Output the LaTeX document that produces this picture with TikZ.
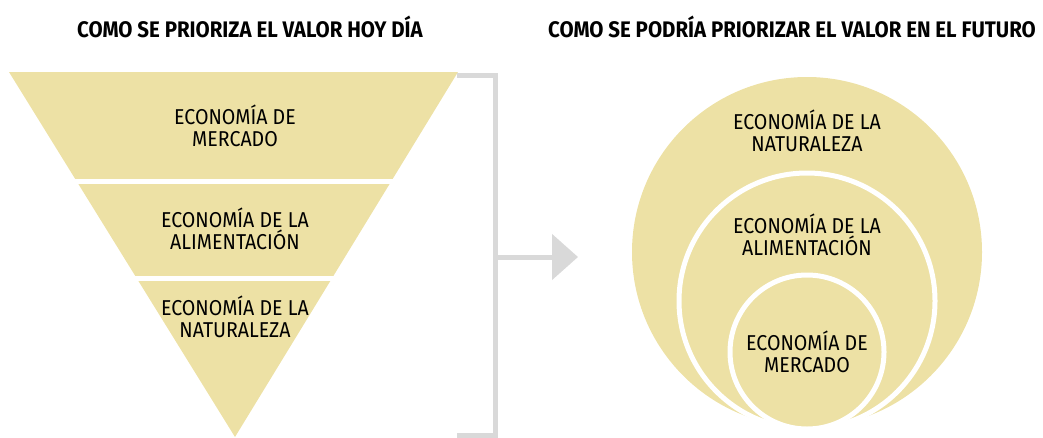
\documentclass[tikz,border=0pt]{standalone}
\usepackage{fontspec}
\setmainfont{Fira Sans}[FakeStretch=0.91]
\usetikzlibrary{arrows.meta}
\definecolor{arena}{HTML}{EDE1A5}
\definecolor{gris}{HTML}{D9D9D9}
\begin{document}
\begin{tikzpicture}[x=1pt,y=-1pt,
  etiqueta/.style={align=center,font=\fontsize{21.5}{22.5}\selectfont,inner sep=0pt},
  titulo/.style={font=\fontsize{22.5}{24}\selectfont\bfseries,inner sep=0pt},
  corte/.style={white,line width=5pt},
  marco/.style={gris,line width=5pt}]

\useasboundingbox (0,0) rectangle (1043,437);

% titulos
\node[titulo] (hoy) at (250,27) {COMO SE PRIORIZA EL VALOR HOY DÍA};
\node[titulo] (futuro) at (792,27) {COMO SE PODRÍA PRIORIZAR EL VALOR EN EL FUTURO};

% piramide invertida
\fill[arena] (9,72) -- (458,72) -- (235,437) -- cycle;
\draw[corte] (0,181.5) -- (470,181.5);
\draw[corte] (0,278.5) -- (470,278.5);

\node[etiqueta] (mercado1) at (235,126) {ECONOMÍA DE\\MERCADO};
\node[etiqueta] (alim1) at (235,229) {ECONOMÍA DE LA\\ALIMENTACIÓN};
\node[etiqueta] (natu1) at (235,317) {ECONOMÍA DE LA\\NATURALEZA};

% corchete y flecha
\coordinate (c1) at (457,75);
\coordinate (c2) at (457,435);
\coordinate (c3) at (495,257);
\coordinate (c4) at (578,257);
\draw[marco] (c1) -- (495,75) -- (495,435) -- (c2);
\draw[marco,-{Triangle[length=26pt,width=45pt]}] (c3) -- (c4);

% circulos
\fill[arena] (807,252) circle (175);
\filldraw[arena,draw=white,line width=5pt] (807,301) circle (128);
\filldraw[arena,draw=white,line width=5pt] (807,352) circle (77);

\node[etiqueta] (natu2) at (807,131) {ECONOMÍA DE LA\\NATURALEZA};
\node[etiqueta] (alim2) at (807,235) {ECONOMÍA DE LA\\ALIMENTACIÓN};
\node[etiqueta] (mercado2) at (807,352) {ECONOMÍA DE\\MERCADO};

\end{tikzpicture}
\end{document}
